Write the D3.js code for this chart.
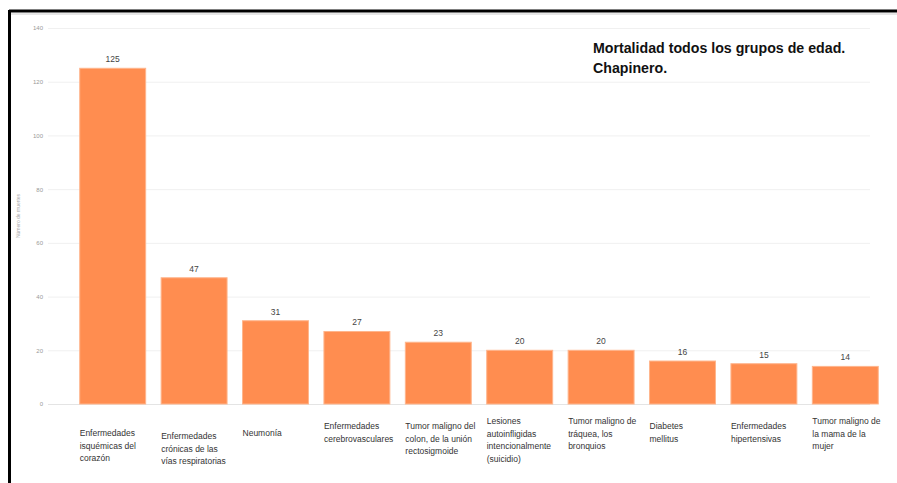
<!DOCTYPE html>
<html><head><meta charset="utf-8">
<script src="https://cdn.jsdelivr.net/npm/d3@7"></script>
<style>body{margin:0;background:#fff}svg{display:block}</style>
</head><body>
<svg id="chart" width="897" height="483"></svg>
<script>
const categories = [
  ["Enfermedades","isquémicas del","corazón"],
  ["Enfermedades","crónicas de las","vías respiratorias"],
  ["Neumonía"],
  ["Enfermedades","cerebrovasculares"],
  ["Tumor maligno del","colon, de la unión","rectosigmoide"],
  ["Lesiones","autoinfligidas","intencionalmente","(suicidio)"],
  ["Tumor maligno de","tráquea, los","bronquios"],
  ["Diabetes","mellitus"],
  ["Enfermedades","hipertensivas"],
  ["Tumor maligno de","la mama de la","mujer"]
];
const labelStartY = [432, 435, 432, 425, 425, 420, 420, 425, 425, 420];
const values = [125, 47, 31, 27, 23, 20, 20, 16, 15, 14];
const yTicks = [0, 20, 40, 60, 80, 100, 120, 140];
const titleLines = ["Mortalidad todos los grupos de edad.", "Chapinero."];
const yTitle = "Número de muertes";

const svg = d3.select("#chart");
const x = d3.scaleBand().domain(d3.range(values.length)).range([72, 886]).paddingInner(0.19).paddingOuter(0.095);
const y = d3.scaleLinear().domain([0, 140]).range([404, 28]);

// frame
svg.append("line").attr("x1",9).attr("x2",897).attr("y1",11).attr("y2",11).attr("stroke","#000").attr("stroke-width",3);
svg.append("line").attr("x1",9).attr("x2",897).attr("y1",14).attr("y2",14).attr("stroke","#e6e6e6").attr("stroke-width",2);
svg.append("line").attr("x1",9.5).attr("x2",9.5).attr("y1",10).attr("y2",483).attr("stroke","#000").attr("stroke-width",3);

// grid
const yAxis = d3.axisLeft(y).tickValues(yTicks).tickSize(-(870-48)).tickPadding(8);
const ga = svg.append("g").attr("transform","translate(48,0)").call(yAxis);
ga.select(".domain").remove();
ga.selectAll(".tick line").attr("stroke", d => d===0 ? "#e4e4e4" : "#f0f0f0");
ga.selectAll(".tick text").attr("fill","#999").attr("font-size","6px").attr("font-family","Liberation Sans, Arial, sans-serif").attr("x",-5);

svg.append("text").attr("transform","translate(20,216) rotate(-90)").attr("text-anchor","middle")
  .attr("font-size","5px").attr("fill","#aaa").attr("font-family","Liberation Sans, Arial, sans-serif").text(yTitle);

// bars
svg.selectAll("rect.bar").data(values).join("rect").attr("class","bar")
  .attr("x",(d,i)=>x(i)).attr("width",x.bandwidth())
  .attr("y",d=>y(d)).attr("height",d=>y(0)-y(d))
  .attr("fill","#ff8d50").attr("stroke","#ffb58c").attr("stroke-width",1);

svg.selectAll("text.val").data(values).join("text").attr("class","val")
  .attr("x",(d,i)=>x(i)+x.bandwidth()/2).attr("y",d=>y(d)-6)
  .attr("text-anchor","middle").attr("font-size","8.5px").attr("fill","#444")
  .attr("font-family","Liberation Sans, Arial, sans-serif").text(d=>d);

// category labels
categories.forEach((lines,i)=>{
  const t = svg.append("text").attr("x",x(i)).attr("y",labelStartY[i]+4)
    .attr("font-size","8.5px").attr("fill","#333").attr("font-family","Liberation Sans, Arial, sans-serif");
  lines.forEach((l,j)=>t.append("tspan").attr("x",x(i)).attr("dy", j===0?0:12.5).text(l));
});

// title
const tt = svg.append("text").attr("x",593).attr("y",53).attr("font-size","14.2px").attr("font-weight","bold")
  .attr("fill","#111").attr("font-family","Liberation Sans, Arial, sans-serif");
titleLines.forEach((l,j)=>tt.append("tspan").attr("x",593).attr("dy", j===0?0:20).text(l));
</script>
</body></html>
